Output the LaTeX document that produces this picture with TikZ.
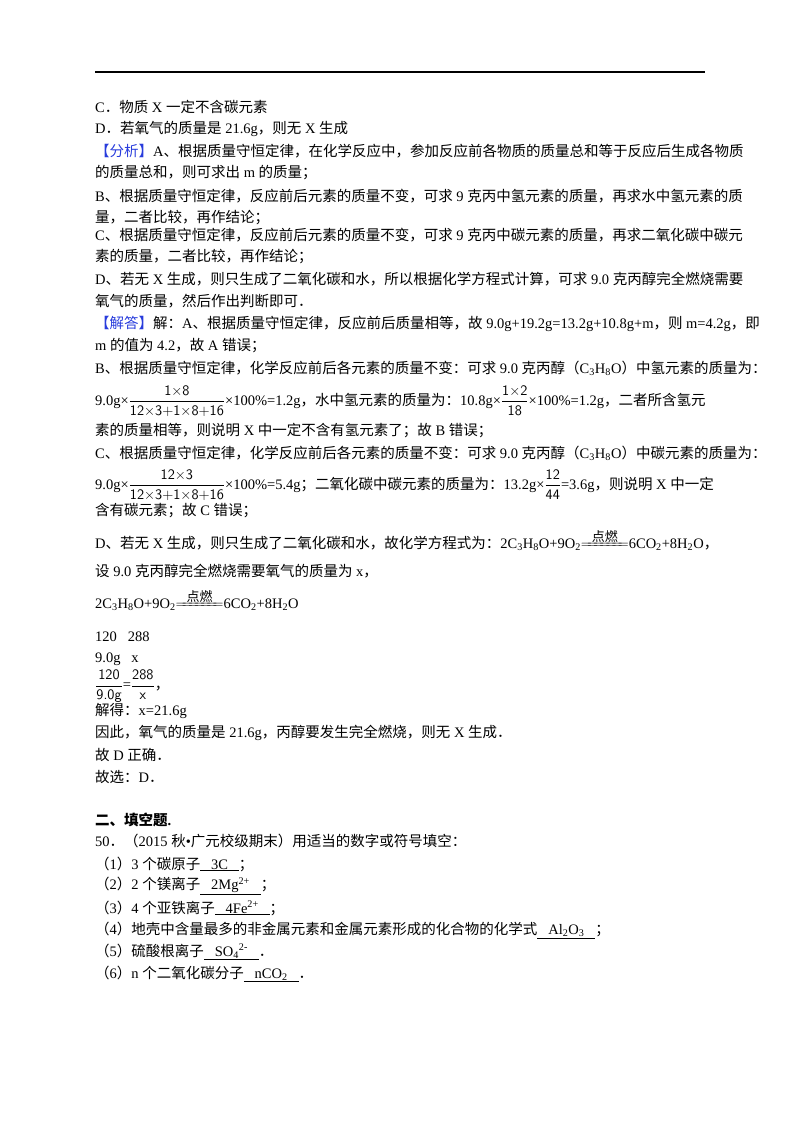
\documentclass[tikz,border=0pt]{standalone}
\usepackage{fontspec}
\setmainfont{Liberation Serif}
\newfontfamily\cjk{Noto Sans CJK SC}
\XeTeXinterchartokenstate=1
\newXeTeXintercharclass\cjkcls
\makeatletter
\count@="3000
\loop\ifnum\count@<"A000 \XeTeXcharclass\count@=\cjkcls \advance\count@ by 1 \repeat
\count@="FF00
\loop\ifnum\count@<"FFF0 \XeTeXcharclass\count@=\cjkcls \advance\count@ by 1 \repeat
\makeatother
\XeTeXinterchartoks 0 \cjkcls = {\begingroup\cjk}
\XeTeXinterchartoks 4095 \cjkcls = {\begingroup\cjk}
\XeTeXinterchartoks \cjkcls 0 = {\endgroup}
\XeTeXinterchartoks \cjkcls 4095 = {\endgroup}
\definecolor{ansblue}{RGB}{40,60,220}
\newcommand{\fr}[2]{$\displaystyle{\hbox{\fontsize{14.5}{14.5}\selectfont\sffamily #1}\over\hbox{\fontsize{14.5}{14.5}\selectfont\sffamily #2}}$}
\newcommand{\ign}{$\buildrel \hbox{\fontsize{13}{13}\selectfont 点燃} \over {=\!\!=\!\!=\!\!=\!\!=\!\!=\!\!=}$}
\newcommand{\ch}[1]{\textsubscript{#1}}
\newcommand{\blank}[1]{\underline{\hbox{\ \ \ #1\ \ \ }}}
\begin{document}
\begin{tikzpicture}[x=1pt,y=-1pt,
  ln/.style={anchor=west,inner sep=0pt,font=\fontsize{14.5}{17}\selectfont}]
\useasboundingbox (0,0) rectangle (800,1132);
\draw[line width=1.2pt] (95,72) -- (705,72);
\node[ln] (l1) at (95,107) {C．物质 X 一定不含碳元素};
\node[ln] (l2) at (95,129) {D．若氧气的质量是 21.6g，则无 X 生成};
\node[ln] (l3) at (95,151) {\textcolor{ansblue}{【分析】}A、根据质量守恒定律，在化学反应中，参加反应前各物质的质量总和等于反应后生成各物质};
\node[ln] (l4) at (95,173) {的质量总和，则可求出 m 的质量；};
\node[ln] (l5) at (95,196) {B、根据质量守恒定律，反应前后元素的质量不变，可求 9 克丙中氢元素的质量，再求水中氢元素的质};
\node[ln] (l6) at (95,218) {量，二者比较，再作结论；};
\node[ln] (l7) at (95,235) {C、根据质量守恒定律，反应前后元素的质量不变，可求 9 克丙中碳元素的质量，再求二氧化碳中碳元};
\node[ln] (l8) at (95,257) {素的质量，二者比较，再作结论；};
\node[ln] (l9) at (95,279) {D、若无 X 生成，则只生成了二氧化碳和水，所以根据化学方程式计算，可求 9.0 克丙醇完全燃烧需要};
\node[ln] (l10) at (95,301) {氧气的质量，然后作出判断即可．};
\node[ln] (l11) at (95,324) {\textcolor{ansblue}{【解答】}解：A、根据质量守恒定律，反应前后质量相等，故 9.0g+19.2g=13.2g+10.8g+m，则 m=4.2g，即};
\node[ln] (l12) at (95,346) {m 的值为 4.2，故 A 错误；};
\node[ln] (l13) at (95,368) {B、根据质量守恒定律，化学反应前后各元素的质量不变：可求 9.0 克丙醇（C\ch{3}H\ch{8}O）中氢元素的质量为：};
\node[ln] (l14) at (95,401) {9.0g×\fr{1×8}{12×3+1×8+16}×100\%=1.2g，水中氢元素的质量为：10.8g×\fr{1×2}{18}×100\%=1.2g，二者所含氢元};
\node[ln] (l15) at (95,431) {素的质量相等，则说明 X 中一定不含有氢元素了；故 B 错误；};
\node[ln] (l16) at (95,453) {C、根据质量守恒定律，化学反应前后各元素的质量不变：可求 9.0 克丙醇（C\ch{3}H\ch{8}O）中碳元素的质量为：};
\node[ln] (l17) at (95,485) {9.0g×\fr{12×3}{12×3+1×8+16}×100\%=5.4g；二氧化碳中碳元素的质量为：13.2g×\fr{12}{44}=3.6g，则说明 X 中一定};
\node[ln] (l18) at (95,511) {含有碳元素；故 C 错误；};
\node[ln] (l19) at (95,540) {D、若无 X 生成，则只生成了二氧化碳和水，故化学方程式为：2C\ch{3}H\ch{8}O+9O\ch{2}\ign 6CO\ch{2}+8H\ch{2}O，};
\node[ln] (l20) at (95,571) {设 9.0 克丙醇完全燃烧需要氧气的质量为 x，};
\node[ln] (l21) at (95,600) {2C\ch{3}H\ch{8}O+9O\ch{2}\ign 6CO\ch{2}+8H\ch{2}O};
\node[ln] (l22) at (95,637) {120\ \ \ 288};
\node[ln] (l23) at (95,659) {9.0g\ \ \ x};
\node[ln] (l24) at (95,686) {\fr{120}{9.0g}=\fr{288}{x}，};
\node[ln] (l25) at (95,711) {解得：x=21.6g};
\node[ln] (l26) at (95,733) {因此，氧气的质量是 21.6g，丙醇要发生完全燃烧，则无 X 生成．};
\node[ln] (l27) at (95,755) {故 D 正确．};
\node[ln] (l28) at (95,777) {故选：D．};
\node[ln,font=\fontsize{14.5}{17}\selectfont\bfseries] (h) at (95,820) {二、填空题.};
\node[ln] (q) at (95,841) {50．（2015 秋•广元校级期末）用适当的数字或符号填空：};
\node[ln] (q1) at (95,864) {（1）3 个碳原子\blank{3C}；};
\node[ln] (q2) at (95,886) {（2）2 个镁离子\blank{2Mg\textsuperscript{2+}}；};
\node[ln] (q3) at (95,908) {（3）4 个亚铁离子\blank{4Fe\textsuperscript{2+}}；};
\node[ln] (q4) at (95,930) {（4）地壳中含量最多的非金属元素和金属元素形成的化合物的化学式\blank{Al\ch{2}O\ch{3}}；};
\node[ln] (q5) at (95,952) {（5）硫酸根离子\blank{SO\ch{4}\textsuperscript{2-}}．};
\node[ln] (q6) at (95,974) {（6）n 个二氧化碳分子\blank{nCO\ch{2}}．};
\end{tikzpicture}
\end{document}
